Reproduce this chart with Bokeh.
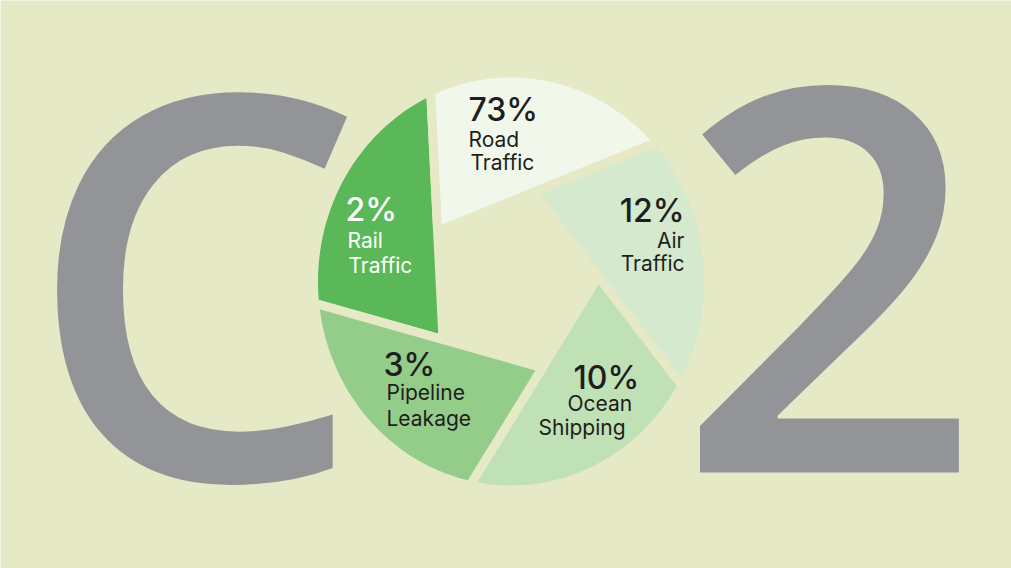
import math
import numpy as np
from bokeh.plotting import figure
from bokeh.models import ColumnDataSource, Range1d
from bokeh.core.properties import value
from bokeh.embed import file_html
from bokeh.resources import INLINE

# ---------------- data ----------------
categories = ["Rail Traffic", "Road Traffic", "Air Traffic", "Ocean Shipping", "Pipeline Leakage"]
shares = [2, 73, 12, 10, 3]
label_line1 = ["Rail", "Road", "Air", "Ocean", "Pipeline"]
label_line2 = ["Traffic", "Traffic", "Traffic", "Shipping", "Leakage"]
big_letters = ["C", "2"]

# ---------------- style / layout ----------------
W, H = 1011, 568
BG = "#E5E9C5"
GRAY = "#939498"
blade_colors = ["#5BB858", "#F1F7EB", "#D4E9CE", "#C0E0B5", "#93CD89"]
text_colors = ["#FFFFFF", "#1E1E1C", "#1E1E1C", "#1E1E1C", "#1E1E1C"]

cx, cy = 510.5, 281.0      # pie centre (px)
rx, ry = 193.0, 204.0      # visible outer radii (px)
gap = 9.0                  # gap between blades (px)
start_deg = 264.0          # compass angle of first blade start
delta_deg = 33.0           # apex lag behind blade start
hole_r = 74.0
BASE_SHIFT = 0.38          # renderer puts alphabetic baseline ~0.38em low

# label anchors: (x, baseline y, align)
pct_pos = [(345, 221, "left"), (468, 121, "left"), (684, 222, "right"), (573, 389, "left"), (383, 376, "left")]
l1_pos = [(347, 248, "left"), (468, 147, "left"), (684, 248, "right"), (567, 411, "left"), (386, 400, "left")]
l2_pos = [(348, 273, "left"), (470, 170, "left"), (684, 271, "right"), (538, 435, "left"), (386, 426, "left")]
letter_pos = [(25, 475), (676, 483)]
LETTER_SIZE = 535

p = figure(width=W, height=H, x_range=Range1d(0, W), y_range=Range1d(H, 0),
           output_backend="svg", toolbar_location=None, min_border=0,
           background_fill_color=BG, border_fill_color=BG, outline_line_color=None)
p.axis.visible = False
p.grid.visible = False

# ---- big "C" and "2" ----
p.text(x=[lp[0] for lp in letter_pos], y=[lp[1] - BASE_SHIFT * LETTER_SIZE for lp in letter_pos],
       text=big_letters, text_align="left", text_baseline="alphabetic",
       text_font=value("Open Sans Medium, Open Sans SemiBold"),
       text_font_size=value(f"{LETTER_SIZE}px"), text_color=GRAY)

# ---- shutter-style pie (equal blades, labelled with shares) ----
n = len(categories)
alpha = 2 * math.pi / n
dl = math.radians(delta_deg)
d_unit = math.cos(alpha + dl) + (1 - math.cos(alpha)) / math.sin(alpha) * math.sin(alpha + dl)
Rx, Ry = rx + gap / 2, ry + gap / 2

xs, ys = [], []
for i in range(n):
    th0 = math.radians(start_deg) + i * alpha
    th1 = th0 + alpha
    ph = th0 - dl
    px_ = [cx + d_unit * Rx * math.sin(ph)]
    py_ = [cy - d_unit * Ry * math.cos(ph)]
    for t in np.linspace(th0, th1, 80):
        px_.append(cx + Rx * math.sin(t))
        py_.append(cy - Ry * math.cos(t))
    xs.append(px_)
    ys.append(py_)

src = ColumnDataSource(dict(xs=xs, ys=ys, color=blade_colors, cat=categories, share=shares))
p.patches("xs", "ys", source=src, fill_color="color", line_color=BG, line_width=gap, line_join="round")
p.ellipse(x=[cx], y=[cy], width=[2 * hole_r], height=[2 * hole_r], fill_color=BG, line_color=None)

# ---- labels ----
def add_text(pos, texts, size, font):
    for (x, y, al), t, c in zip(pos, texts, text_colors):
        p.text(x=[x], y=[y - BASE_SHIFT * size], text=[t], text_align=al, text_baseline="alphabetic",
               text_font=value(font), text_font_size=value(f"{size}px"), text_color=c)

add_text(pct_pos, [f"{s}%" for s in shares], 32, "Inter Medium")
add_text(l1_pos, label_line1, 21, "Inter")
add_text(l2_pos, label_line2, 21, "Inter")

open("out.html", "w").write(file_html(p, INLINE))
